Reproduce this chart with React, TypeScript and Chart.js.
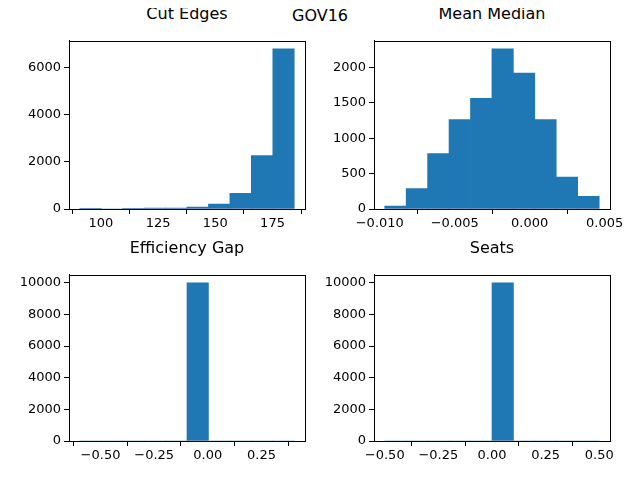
import { useEffect, useRef } from 'react';
import Chart from 'chart.js/auto';

const cutEdgesBins = [90.8, 100.2, 109.5, 118.9, 128.3, 137.6, 147.0, 156.4, 165.7, 175.1, 184.5];
const cutEdgesCounts = [3, 0, 30, 40, 40, 80, 205, 660, 2265, 6780];

const meanMedianBins = [-0.00967, -0.00824, -0.00681, -0.00538, -0.00395, -0.00252, -0.00109, 0.00034, 0.00177, 0.0032, 0.00464];
const meanMedianCounts = [41, 288, 783, 1263, 1565, 2265, 1922, 1263, 453, 179];

const effGapBins = [-0.597, -0.497, -0.397, -0.297, -0.197, -0.097, 0.003, 0.103, 0.203, 0.303, 0.403];
const effGapCounts = [0, 0, 0, 0, 0, 10000, 0, 0, 0, 0];

const seatsBins = [-0.5, -0.4, -0.3, -0.2, -0.1, 0.0, 0.1, 0.2, 0.3, 0.4, 0.5];
const seatsCounts = [0, 0, 0, 0, 0, 10000, 0, 0, 0, 0];

const MINUS = '\u2212';
const fmt = (v: number, d: number) => (v < 0 ? MINUS : '') + Math.abs(v).toFixed(d);

interface HistProps {
  title: string;
  bins: number[];
  counts: number[];
  xTicks: number[];
  xDecimals: number;
  yTicks: number[];
  left: number;
  top: number;
  width: number;
  height: number;
  yAxisWidth: number;
}

const boxPlugin = {
  id: 'box',
  afterDraw(chart: Chart) {
    const { ctx, chartArea: a } = chart;
    ctx.save();
    ctx.strokeStyle = '#000';
    ctx.lineWidth = 1;
    ctx.strokeRect(Math.round(a.left) + 0.5, Math.round(a.top) + 0.5, Math.round(a.right - a.left), Math.round(a.bottom - a.top));
    ctx.restore();
  },
};

function Histogram(p: HistProps) {
  const ref = useRef<HTMLCanvasElement>(null);
  const inst = useRef<Chart | null>(null);

  useEffect(() => {
    if (!ref.current) return;
    if (inst.current) inst.current.destroy();
    const lo = p.bins[0];
    const hi = p.bins[p.bins.length - 1];
    const margin = (hi - lo) * 0.05;
    const maxCount = Math.max(...p.counts);
    const data = p.counts.map((c, i) => ({ x: (p.bins[i] + p.bins[i + 1]) / 2, y: c }));
    const font = { family: 'DejaVu Sans', size: 13 };

    inst.current = new Chart(ref.current, {
      type: 'bar',
      data: {
        datasets: [{
          data,
          backgroundColor: '#1f77b4',
          barPercentage: 1,
          categoryPercentage: 1,
        }],
      },
      options: {
        animation: false,
        responsive: false,
        layout: { padding: { top: 5, right: p.width - p.yAxisWidth - 236, left: 0, bottom: 0 } },
        plugins: { legend: { display: false }, tooltip: { enabled: false } },
        scales: {
          x: {
            type: 'linear',
            offset: false,
            min: lo - margin,
            max: hi + margin,
            grid: { drawOnChartArea: false, drawTicks: true, tickLength: 5, color: '#000' },
            border: { display: true, color: '#000' },
            ticks: { color: '#000', font, maxRotation: 0, padding: 2, callback: (v) => fmt(Number(v), p.xDecimals) },
            afterBuildTicks: (s: any) => { s.ticks = p.xTicks.map((v) => ({ value: v })); },
            afterFit: (s: any) => { s.height = 30; },
          },
          y: {
            min: 0,
            max: maxCount * 1.05,
            grid: { drawOnChartArea: false, drawTicks: true, tickLength: 5, color: '#000' },
            border: { display: true, color: '#000' },
            ticks: { color: '#000', font, padding: 3, callback: (v) => String(v) },
            afterBuildTicks: (s: any) => { s.ticks = p.yTicks.map((v) => ({ value: v })); },
            afterFit: (s: any) => { s.width = p.yAxisWidth; },
          },
        },
      },
      plugins: [boxPlugin],
    });

    return () => {
      if (inst.current) {
        inst.current.destroy();
        inst.current = null;
      }
    };
  }, []);

  return (
    <>
      <div style={{ position: 'absolute', left: p.left + p.yAxisWidth, width: 236, top: p.top - 26, textAlign: 'center', fontFamily: 'DejaVu Sans', fontSize: 16 }}>
        {p.title}
      </div>
      <canvas ref={ref} width={p.width} height={p.height} style={{ position: 'absolute', left: p.left, top: p.top, width: p.width, height: p.height }} />
    </>
  );
}

export default function App() {
  return (
    <div style={{ position: 'relative', width: 640, height: 480, margin: -8, background: '#fff', overflow: 'hidden' }}>
      <div style={{ position: 'absolute', left: 0, width: 640, top: 6, textAlign: 'center', fontFamily: 'DejaVu Sans', fontSize: 16 }}>GOV16</div>
      <Histogram title="Cut Edges" bins={cutEdgesBins} counts={cutEdgesCounts} xTicks={[100, 125, 150, 175]} xDecimals={0}
        yTicks={[0, 2000, 4000, 6000]} left={0} top={30} width={325} height={209} yAxisWidth={69} />
      <Histogram title="Mean Median" bins={meanMedianBins} counts={meanMedianCounts} xTicks={[-0.01, -0.005, 0, 0.005]} xDecimals={3}
        yTicks={[0, 500, 1000, 1500, 2000]} left={310} top={30} width={325} height={209} yAxisWidth={64} />
      <Histogram title="Efficiency Gap" bins={effGapBins} counts={effGapCounts} xTicks={[-0.5, -0.25, 0, 0.25]} xDecimals={2}
        yTicks={[0, 2000, 4000, 6000, 8000, 10000]} left={0} top={264} width={325} height={207} yAxisWidth={69} />
      <Histogram title="Seats" bins={seatsBins} counts={seatsCounts} xTicks={[-0.5, -0.25, 0, 0.25, 0.5]} xDecimals={2}
        yTicks={[0, 2000, 4000, 6000, 8000, 10000]} left={310} top={264} width={325} height={207} yAxisWidth={64} />
    </div>
  );
}
